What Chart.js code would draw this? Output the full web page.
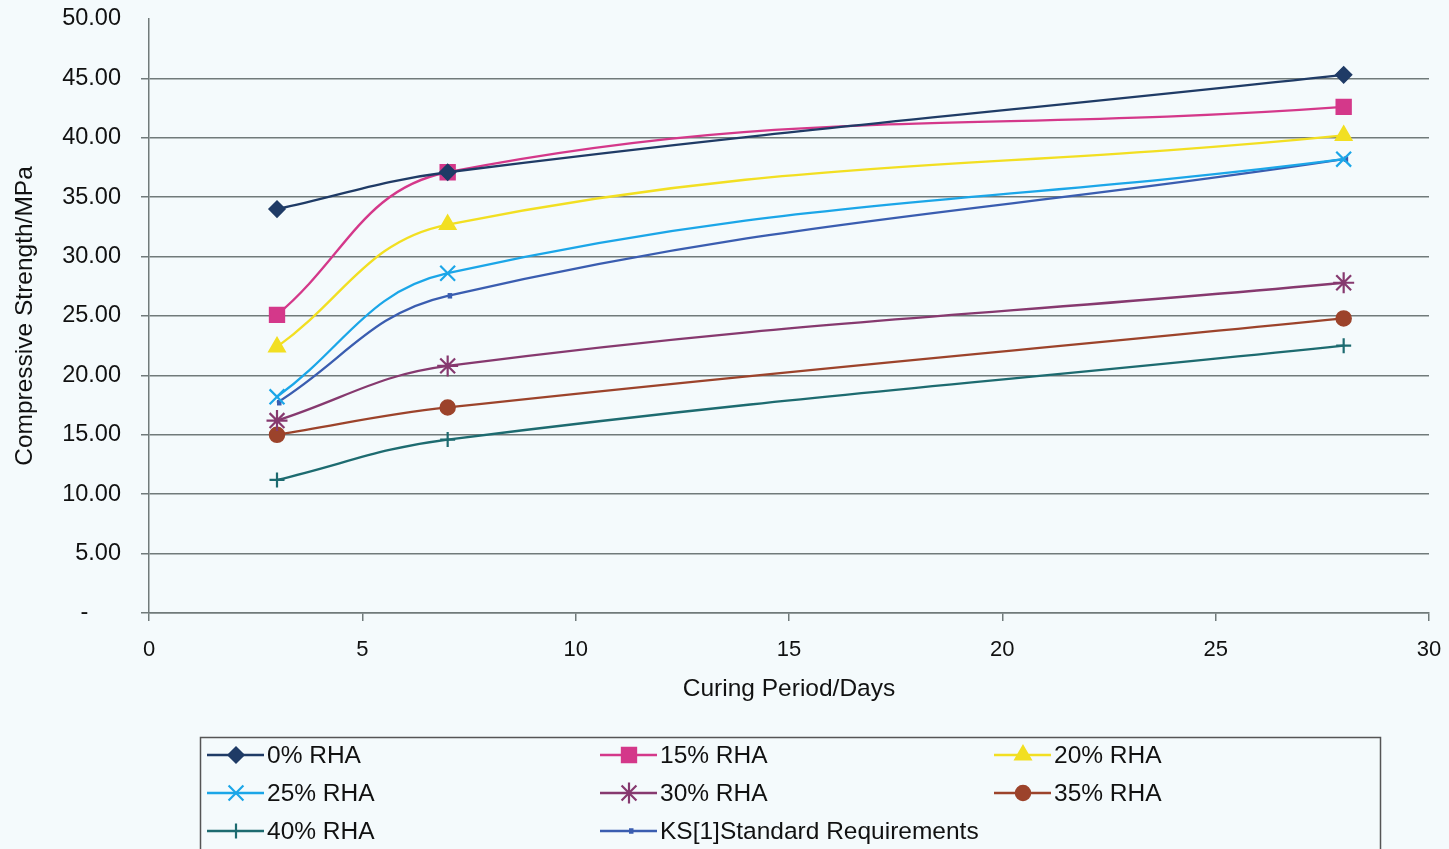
<!DOCTYPE html>
<html>
<head>
<meta charset="utf-8">
<script src="https://cdn.jsdelivr.net/npm/chart.js@4/dist/chart.umd.min.js"></script>
<style>
  html, body { margin: 0; padding: 0; background: #f4fafc; }
  #wrap { width: 1449px; height: 849px; }
</style>
</head>
<body>
<div id="wrap"><canvas id="c" width="1449" height="849"></canvas></div>
<script>
// Curing ages (days) and compressive strength (MPa) per mix
const days = [3, 7, 28];
const rha0  = [34.0, 37.1, 45.3];
const rha15 = [25.1, 37.1, 42.6];
const rha20 = [22.4, 32.7, 40.2];
const rha25 = [18.2, 28.6, 38.2];
const rha30 = [16.2, 20.8, 27.8];
const rha35 = [15.0, 17.3, 24.8];
const rha40 = [11.2, 14.6, 22.5];
const ksStandard = [17.7, 26.7, 38.2];

const seriesNames = ['0% RHA', '15% RHA', '20% RHA', '25% RHA', '30% RHA', '35% RHA', '40% RHA', 'KS[1]Standard Requirements'];
const seriesValues = [rha0, rha15, rha20, rha25, rha30, rha35, rha40, ksStandard];

const xTitle = 'Curing Period/Days';
const yTitle = 'Compressive Strength/MPa';

// Per-series appearance
const styles = [
  { color: '#1f3b66', point: 'rectRot',  radius: 8,    bw: 1.5 },
  { color: '#d4388a', point: 'rect',     radius: 10.5, bw: 1.5 },
  { color: '#f2df22', point: 'triangle', radius: 9.5,  bw: 1.5 },
  { color: '#1ba6e8', point: 'crossRot', radius: 10.5, bw: 2.2 },
  { color: '#86396f', point: 'star',     radius: 10.5, bw: 2.2 },
  { color: '#9c432b', point: 'circle',   radius: 7.5,  bw: 1.5 },
  { color: '#1d6b70', point: 'cross',    radius: 7.5,  bw: 2.2 },
  { color: '#3a5db0', point: 'dash',     radius: 4.5,  bw: 5.5 }
];

const datasets = seriesValues.map((vals, i) => ({
  label: seriesNames[i],
  data: days.map((d, j) => ({ x: d, y: vals[j] })),
  borderColor: styles[i].color,
  backgroundColor: styles[i].color,
  borderWidth: 2.3,
  tension: 0.4,
  pointStyle: styles[i].point,
  pointRadius: styles[i].radius,
  pointHoverRadius: styles[i].radius,
  pointBorderWidth: styles[i].bw,
  pointBackgroundColor: styles[i].color,
  pointBorderColor: styles[i].color,
  fill: false
}));

const FONT = "'Liberation Sans', Arial, sans-serif";

// Legend drawn in a bordered box under the plot, three columns
const boxLegend = {
  id: 'boxLegend',
  afterDraw(chart) {
    const ctx = chart.ctx;
    ctx.save();
    ctx.strokeStyle = '#555';
    ctx.lineWidth = 1.5;
    ctx.strokeRect(200.5, 737.5, 1180, 130);
    const colX = [207, 600, 994];
    const rowY = [755, 793, 831];
    ctx.font = '24.5px ' + FONT;
    ctx.textBaseline = 'middle';
    ctx.textAlign = 'left';
    chart.data.datasets.forEach((ds, i) => {
      const x = colX[i % 3];
      const y = rowY[Math.floor(i / 3)];
      const st = styles[i];
      ctx.strokeStyle = st.color;
      ctx.fillStyle = st.color;
      ctx.lineWidth = 2.3;
      ctx.beginPath();
      ctx.moveTo(x, y);
      ctx.lineTo(x + 57, y);
      ctx.stroke();
      ctx.lineWidth = st.bw;
      Chart.helpers.drawPoint(ctx, { pointStyle: st.point, radius: st.radius, rotation: 0, borderWidth: st.bw }, x + 29, y);
      ctx.fillStyle = '#111';
      ctx.fillText(ds.label, x + 60, y + 1);
    });
    ctx.restore();
  }
};

const bg = {
  id: 'bg',
  beforeDraw(chart) {
    const ctx = chart.ctx;
    ctx.save();
    ctx.fillStyle = '#f4fafc';
    ctx.fillRect(0, 0, chart.width, chart.height);
    ctx.restore();
  }
};

new Chart(document.getElementById('c'), {
  type: 'line',
  data: { datasets },
  plugins: [bg, boxLegend],
  options: {
    responsive: false,
    animation: false,
    layout: { padding: { left: 0, top: 19, right: 20, bottom: 136 } },
    plugins: { legend: { display: false }, tooltip: { enabled: false } },
    scales: {
      x: {
        type: 'linear',
        min: 0, max: 30,
        ticks: { stepSize: 5, color: '#111', font: { family: FONT, size: 22 }, padding: 16 },
        grid: { drawOnChartArea: false, drawTicks: true, tickLength: 8, color: '#707a7a', lineWidth: 1.5 },
        border: { display: true, color: '#707a7a', width: 1.5 },
        title: { display: true, text: xTitle, color: '#111', font: { family: FONT, size: 24.5 }, padding: { top: 0, bottom: 9 } },
        afterFit(scale) {
          scale.height = 100;
          scale.paddingLeft = 0; scale.paddingRight = 0;
          scale.paddingTop = 0; scale.paddingBottom = 0;
        }
      },
      y: {
        min: 0, max: 50,
        ticks: {
          stepSize: 5, color: '#111', font: { family: FONT, size: 23.5 }, padding: 20,
          callback: (v) => v === 0 ? '-     ' : v.toFixed(2)
        },
        grid: {
          drawTicks: true, tickLength: 8, lineWidth: 1.5,
          color: (c) => (c.tick && c.tick.value === 50) ? 'rgba(0,0,0,0)' : '#707a7a'
        },
        border: { display: true, color: '#707a7a', width: 1.5 },
        title: { display: true, text: yTitle, color: '#111', font: { family: FONT, size: 24.5 }, padding: { top: 11, bottom: 0 } },
        afterFit(scale) {
          scale.width = 149;
          scale.paddingLeft = 0; scale.paddingRight = 0;
          scale.paddingTop = 0; scale.paddingBottom = 0;
        }
      }
    }
  }
});
</script>
</body>
</html>
